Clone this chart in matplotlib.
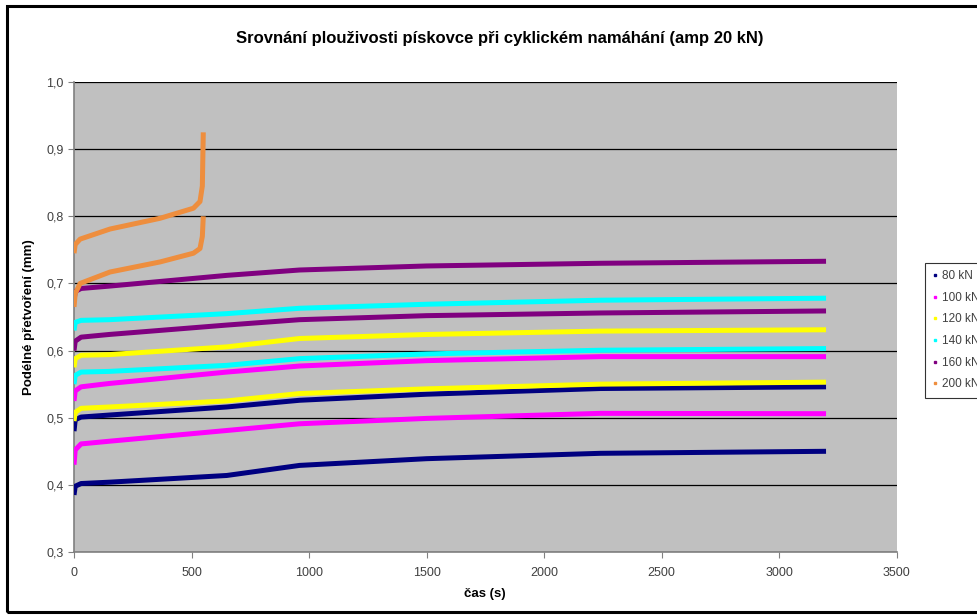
import numpy as np
import matplotlib
matplotlib.use("Agg")
import matplotlib.pyplot as plt
from matplotlib.patches import Rectangle
from matplotlib.lines import Line2D

plt.rcParams['font.family'] = ['Liberation Sans', 'DejaVu Sans']

# sample times (s)
t = [0, 5, 30, 150, 650, 960, 1500, 2240, 3200]

# each load: lower band (cycle minimum) and upper band (cycle maximum)
kn80_lo = [0.385, 0.398, 0.402, 0.404, 0.414, 0.429, 0.439, 0.447, 0.450]
kn80_hi = [0.480, 0.497, 0.501, 0.504, 0.516, 0.526, 0.535, 0.5435, 0.546]
kn100_lo = [0.430, 0.452, 0.461, 0.465, 0.481, 0.491, 0.499, 0.5065, 0.506]
kn100_hi = [0.525, 0.540, 0.546, 0.551, 0.568, 0.577, 0.585, 0.591, 0.591]
kn120_lo = [0.495, 0.508, 0.514, 0.516, 0.525, 0.536, 0.543, 0.550, 0.553]
kn120_hi = [0.575, 0.588, 0.593, 0.594, 0.6055, 0.618, 0.624, 0.629, 0.631]
kn140_lo = [0.550, 0.563, 0.568, 0.569, 0.578, 0.588, 0.595, 0.6005, 0.603]
kn140_hi = [0.630, 0.642, 0.645, 0.646, 0.655, 0.663, 0.669, 0.675, 0.678]
kn160_lo = [0.600, 0.614, 0.620, 0.624, 0.638, 0.646, 0.652, 0.656, 0.659]
kn160_hi = [0.675, 0.688, 0.6925, 0.696, 0.712, 0.720, 0.726, 0.730, 0.733]

# 200 kN failed early
t200 = [0, 5, 26, 153, 366, 508, 536, 546, 550]
kn200_lo = [0.665, 0.685, 0.700, 0.717, 0.732, 0.745, 0.752, 0.770, 0.800]
kn200_hi = [0.745, 0.758, 0.766, 0.781, 0.797, 0.812, 0.822, 0.845, 0.925]

labels = ['80 kN', '100 kN', '120 kN', '140 kN', '160 kN', '200 kN']
colors = ['#000080', '#FF00FF', '#FFFF00', '#00FFFF', '#800080', '#EE8E3E']

fig = plt.figure(figsize=(9.78, 6.15), dpi=100)
ax = fig.add_axes([0.0757, 0.1024, 0.841, 0.7643])
ax.set_facecolor('#C0C0C0')

series = [(t, kn80_lo, kn80_hi), (t, kn100_lo, kn100_hi), (t, kn120_lo, kn120_hi),
          (t, kn140_lo, kn140_hi), (t, kn160_lo, kn160_hi), (t200, kn200_lo, kn200_hi)]
for (tt, lo, hi), c in zip(series, colors):
    ax.plot(tt, lo, color=c, lw=3.6, solid_capstyle='butt', zorder=3)
    ax.plot(tt, hi, color=c, lw=3.6, solid_capstyle='butt', zorder=3)

ax.set_xlim(0, 3500)
ax.set_ylim(0.3, 1.0)
ax.set_xticks(np.arange(0, 3501, 500))
ax.set_yticks(np.arange(0.3, 1.01, 0.1))
ax.set_yticklabels([f"{v:.1f}".replace('.', ',') for v in np.arange(0.3, 1.01, 0.1)])
ax.yaxis.grid(True, color='black', lw=0.9)
ax.set_axisbelow(True)
ax.tick_params(labelsize=9, colors='#404040', length=4, width=0.8, direction='out')
ax.tick_params(axis='both', color='#808080')
for s in ['top', 'right']:
    ax.spines[s].set_visible(False)
for s in ['left', 'bottom']:
    ax.spines[s].set_color('#808080')
    ax.spines[s].set_linewidth(1.2)
ax.xaxis.set_tick_params(pad=7)

ax.set_xlabel('čas (s)', fontsize=9.5, fontweight='bold', labelpad=6)
ax.set_ylabel('Podélné přetvoření (mm)', fontsize=9.5, fontweight='bold', labelpad=8)

fig.text(500 / 978, 1 - 38 / 615, 'Srovnání plouživosti pískovce při cyklickém namáhání (amp 20 kN)',
         ha='center', va='center', fontsize=12, fontweight='bold')

handles = [Line2D([], [], ls='none', marker='s', ms=1.8, color=c) for c in colors]
leg = fig.legend(handles, labels, loc='upper left', bbox_to_anchor=(925 / 978, 1 - 263 / 615),
                 bbox_transform=fig.transFigure, fontsize=8.5, frameon=True, fancybox=False,
                 handlelength=0.5, handletextpad=0.3, labelspacing=0.82, borderpad=0.6,
                 borderaxespad=0)
leg.get_frame().set_edgecolor('black')
leg.get_frame().set_linewidth(0.8)
for txt in leg.get_texts():
    txt.set_color('#404040')

fig.patches.append(Rectangle((7 / 978, 3 / 615), 1.1, 1 - 9 / 615, transform=fig.transFigure,
                             fill=False, ec='black', lw=2.2))

fig.savefig('out.png', dpi=100)
